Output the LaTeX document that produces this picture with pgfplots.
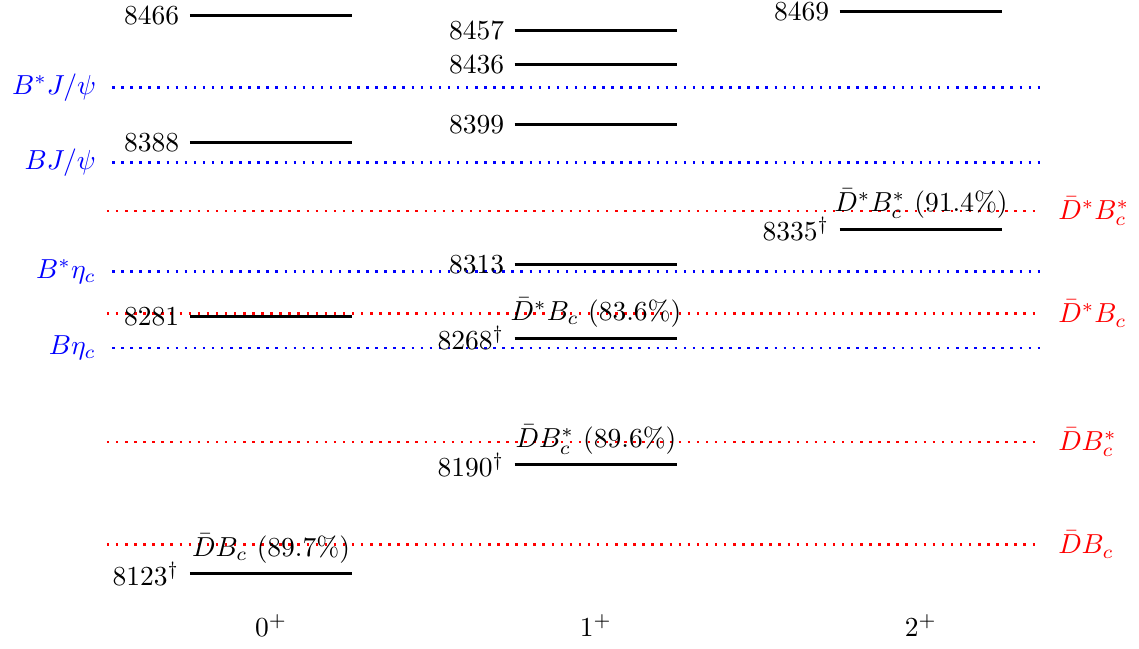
\documentclass[border=0pt]{standalone}
\usepackage{pgfplots}
\pgfplotsset{compat=1.18}

\begin{document}
\begin{tikzpicture}
\begin{axis}[
    scale only axis,
    width=414.2pt, height=236pt,
    xmin=-0.834, xmax=2.671,
    ymin=8076.9, ymax=8475.8,
    xtick={0,1,2},
    xticklabels={$0^+$,$1^+$,$2^+$},
    xticklabel style={anchor=base, yshift=4.4pt},
    ytick=\empty,
    axis line style={draw=none},
    tick style={draw=none},
    clip=false,
    level/.style={black, line width=1.1pt, no markers},
    thr/.style={line width=0.9pt, dash pattern=on 0.9pt off 2.4pt, no markers},
]

% thresholds (blue: labels left, red: labels right)
\addplot[thr, blue] coordinates {(-0.489,8422) (2.38,8422)} node[pos=0,anchor=east,xshift=-2.1pt]{$B^*J/\psi$};
\addplot[thr, blue] coordinates {(-0.489,8376) (2.38,8376)} node[pos=0,anchor=east,xshift=-2.1pt]{$BJ/\psi$};
\addplot[thr, blue] coordinates {(-0.489,8309) (2.38,8309)} node[pos=0,anchor=east,xshift=-2.1pt]{$B^*\eta_c$};
\addplot[thr, blue] coordinates {(-0.489,8262) (2.38,8262)} node[pos=0,anchor=east,xshift=-2.1pt]{$B\eta_c$};
\addplot[thr, red] coordinates {(-0.505,8346) (2.366,8346)} node[pos=1,anchor=west,xshift=2.9pt]{$\bar{D}^*B_c^*$};
\addplot[thr, red] coordinates {(-0.505,8283) (2.366,8283)} node[pos=1,anchor=west,xshift=2.9pt]{$\bar{D}^*B_c$};
\addplot[thr, red] coordinates {(-0.505,8204) (2.366,8204)} node[pos=1,anchor=west,xshift=2.9pt]{$\bar{D}B_c^*$};
\addplot[thr, red] coordinates {(-0.505,8141) (2.366,8141)} node[pos=1,anchor=west,xshift=2.9pt]{$\bar{D}B_c$};

% 0+
\addplot[level] coordinates {(-0.25,8466) (0.25,8466)} node[pos=0,anchor=east]{8466};
\addplot[level] coordinates {(-0.25,8388) (0.25,8388)} node[pos=0,anchor=east]{8388};
\addplot[level] coordinates {(-0.25,8281) (0.25,8281)} node[pos=0,anchor=east]{8281};
\addplot[level] coordinates {(-0.25,8123) (0.25,8123)} node[pos=0,anchor=east]{$8123^\dagger$}
    node[pos=0.5,anchor=south]{$\bar{D}B_c$ (89.7\%)};

% 1+
\addplot[level] coordinates {(0.75,8457) (1.25,8457)} node[pos=0,anchor=east]{8457};
\addplot[level] coordinates {(0.75,8436) (1.25,8436)} node[pos=0,anchor=east]{8436};
\addplot[level] coordinates {(0.75,8399) (1.25,8399)} node[pos=0,anchor=east]{8399};
\addplot[level] coordinates {(0.75,8313) (1.25,8313)} node[pos=0,anchor=east]{8313};
\addplot[level] coordinates {(0.75,8268) (1.25,8268)} node[pos=0,anchor=east]{$8268^\dagger$}
    node[pos=0.5,anchor=south]{$\bar{D}^*B_c$ (83.6\%)};
\addplot[level] coordinates {(0.75,8190) (1.25,8190)} node[pos=0,anchor=east]{$8190^\dagger$}
    node[pos=0.5,anchor=south]{$\bar{D}B_c^*$ (89.6\%)};

% 2+
\addplot[level] coordinates {(1.75,8469) (2.25,8469)} node[pos=0,anchor=east]{8469};
\addplot[level] coordinates {(1.75,8335) (2.25,8335)} node[pos=0,anchor=east]{$8335^\dagger$}
    node[pos=0.5,anchor=south]{$\bar{D}^*B_c^*$ (91.4\%)};

\end{axis}
\pgfresetboundingbox
\path[use as bounding box] (current axis.south west) rectangle (current axis.north east);
\end{tikzpicture}
\end{document}
